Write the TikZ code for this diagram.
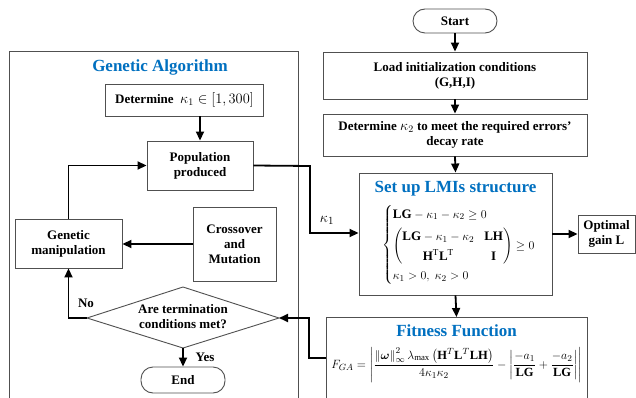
\documentclass[tikz,border=0pt]{standalone}
\usepackage{amsmath}
\usepackage{fontspec}
\setmainfont{Liberation Serif}
\usetikzlibrary{arrows.meta}
\definecolor{ttl}{HTML}{0070C0}
\definecolor{bord}{HTML}{505050}
\tikzset{
  box/.style={draw=bord, line width=0.9pt, align=center, font=\bfseries\fontsize{13}{15}\selectfont, inner sep=1pt},
  term/.style={box, rounded corners=12pt},
  conn/.style={line width=1.8pt, -{Triangle[length=9pt,width=8pt]}},
  title/.style={text=ttl, font=\bfseries\fontsize{17}{19}\selectfont},
  lbl/.style={font=\bfseries\fontsize{13}{15}\selectfont}
}
\begin{document}
\begin{tikzpicture}[x=1pt,y=-1pt]
\useasboundingbox (0,0) rectangle (636,398);
\clip (0,0) rectangle (636,398);
\fill[white] (0,0) rectangle (636,398);
% GA frame
\draw[bord, line width=0.9pt] (9,51) rectangle (298,430);
\node[title] (gat) at (160,67) {Genetic Algorithm};
% left column
\node[box, minimum width=158pt, minimum height=32pt] (det1) at (184.5,100) {Determine\ \ {\fontsize{14}{16}\selectfont$\kappa_1\in\left[1,300\right]$}};
\node[box, minimum width=106pt, minimum height=49pt] (pop) at (200,165.5) {Population\\produced};
\node[box, minimum width=107pt, minimum height=49pt] (gm) at (68.5,243.5) {Genetic\\manipulation};
\node[box, minimum width=83pt, minimum height=74pt] (cm) at (234.5,244) {Crossover\\and\\Mutation};
% diamond
\coordinate (dl) at (87,318);
\coordinate (dr) at (279,318);
\coordinate (dt) at (183,287);
\coordinate (db) at (183,348);
\draw[bord, line width=0.9pt] (dl) -- (dt) -- (dr) -- (db) -- cycle;
\node[lbl, align=center] (dtext) at (183,317) {Are termination\\conditions met?};
\node[term, minimum width=84pt, minimum height=26pt] (end) at (183,380) {End};
% right column
\node[term, minimum width=84pt, minimum height=24pt] (start) at (455,21) {Start};
\node[box, minimum width=264pt, minimum height=47pt] (load) at (455,75.5) {Load initialization conditions\\(G,H,I)};
\node[box, minimum width=264pt, minimum height=42pt] (det2) at (455,135) {Determine {\fontsize{14}{16}\selectfont$\kappa_2$} to meet the required errors'\\decay rate};
\node[box, minimum width=193pt, minimum height=122pt] (lmi) at (455.5,234) {};
\node[title] (lmit) at (455.5,189) {Set up LMIs structure};
\node[anchor=west, inner sep=0pt] (lmieq) at (382,245) {\fontsize{13}{15}\selectfont\renewcommand{\arraystretch}{1.3}$\left\{\begin{array}{@{}l@{}}
\mathbf{LG}-\kappa_1-\kappa_2\ge 0\\[3pt]
\begin{pmatrix}\mathbf{LG}-\kappa_1-\kappa_2 & \mathbf{LH}\\ \mathbf{H}^{\mathrm{T}}\mathbf{L}^{\mathrm{T}} & \mathbf{I}\end{pmatrix}\ge 0\\[3pt]
\kappa_1>0,\ \kappa_2>0
\end{array}\right.$};
\node[box, minimum width=57pt, minimum height=38pt] (opt) at (606.5,234) {Optimal\\gain L};
\node[box, minimum width=261pt, minimum height=120pt, anchor=north] (fit) at (456.5,317) {};
\node[title] (fitt) at (456.5,331) {Fitness Function};
\node[inner sep=0pt] (fiteq) at (456.5,365) {\fontsize{12.5}{14}\selectfont$F_{GA}=\left|\dfrac{\left\|\boldsymbol{\omega}\right\|^2_\infty\lambda_{\max}\left(\mathbf{H}^T\mathbf{L}^T\mathbf{LH}\right)}{4\kappa_1\kappa_2}-\left|\dfrac{-a_1}{\mathbf{LG}}+\dfrac{-a_2}{\mathbf{LG}}\right|\right|$};
% connectors
\coordinate (fitl) at (326,358);
\draw[conn] (pop.north |- det1.south) -- (pop.north);
\draw[conn] (gm.north) -- (gm.north |- pop.west) -- (pop.west);
\draw[conn] (cm.west) -- (cm.west -| gm.east);
\draw[conn] (dl) -- (dl -| gm.south) -- (gm.south);
\node[lbl] (no) at (86,303) {No};
\draw[conn] (db) -- (end.north);
\node[lbl] (yes) at (205,357) {Yes};
\draw[conn] (pop.east) -- (310,166) -- (310,233) -- (lmi.west |- 0,233);
\node (k1) at (327,220) {\fontsize{15}{17}\selectfont$\kappa_1$};
\draw[conn] (fitl) -- (309,358) -- (309,318) -- (dr);
\draw[conn] (start.south) -- (load.north);
\draw[conn] (load.south) -- (det2.north);
\draw[conn] (det2.south) -- (lmi.north);
\draw[conn] (lmi.south) -- (fit.north);
\draw[conn] (lmi.east) -- (opt.west);
\end{tikzpicture}
\end{document}
